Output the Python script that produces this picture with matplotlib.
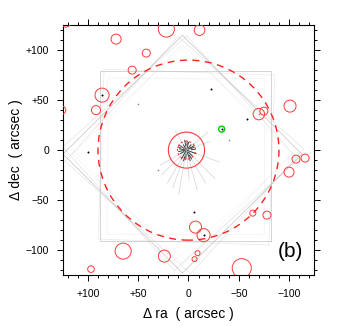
import numpy as np
import matplotlib
matplotlib.use("Agg")
import matplotlib.pyplot as plt
from matplotlib.patches import Circle
from matplotlib.ticker import MultipleLocator, FuncFormatter

plt.rcParams['font.family'] = ['Liberation Sans', 'DejaVu Sans']

# red source circles: ra, dec, radius (arcsec)
src_ra = [22, 72, 42, 56, 86, 92, 126, 122, -11, -101, -70, -75, -107, -116,
          -100, -64, -78, -7, -15, -9, -6, 24, 65, 97, -53]
src_dec = [121, 111, 97, 80, 55, 40, 40, 128, 120, 44, 36, 39, -9, -8,
           -22, -63, -65, -77, -85, -103, -109, -106, -101, -119, -118]
src_r = [8, 5, 4, 4, 7, 4.5, 4, 5, 5.3, 6, 5.7, 4, 4, 4,
         5, 3, 4, 6, 6.5, 2.5, 2.5, 6, 8, 3.3, 9.5]

# black point sources
dot_ra = [100, -22, -58, -5, -15, -33, 86]
dot_dec = [-2, 61, 31, -62, -85, 21, 55]
faint_ra = [50, -70, 30, -40]
faint_dec = [46, 36, -20, 10]

# footprints: centre ra, centre dec, half size, position angle (deg)
fp_ra = [3, 6, 4, 8, 2]
fp_dec = [-6, -4, -5, -3, -7]
fp_half = [85, 84, 84, 83, 85]
fp_pa = [0, 45, 42, 48, 2]
fp_alpha = [0.8, 0.8, 0.35, 0.35, 0.3]

# dark stripes of the central source: angle (deg), inner and outer radius (arcsec)
spk_ang = [10, 35, 60, 80, 105, 130, 150, 175, 200, 225, 250, 275, 300, 330, 350,
           20, 95, 160, 240, 285]
spk_r0 = [1, 3, 2, 4, 1, 3, 2, 5, 1, 3, 2, 4, 1, 3, 2, 6, 5, 4, 6, 7]
spk_r1 = [7, 9, 6, 10, 8, 7, 9, 8, 10, 8, 11, 9, 10, 7, 8, 9, 9, 8, 10, 11]
ray_ang = [200, 225, 240, 255, 265, 280, 290, 300, 315, 330, 140, 160, 60]
ray_len = [35, 40, 38, 42, 30, 45, 40, 38, 35, 30, 28, 25, 22]

cen_ra, cen_dec = 2, 0
fov_r = 90
halo_r = 18
core_r = 9
green_ra, green_dec, green_r = -33, 21, 3

fig = plt.figure(figsize=(3.51, 3.26), dpi=100)
ax = fig.add_axes([0.179, 0.156, 0.716, 0.767])
ax.set_xlim(125, -125)
ax.set_ylim(-125, 125)

sq = np.array([[-1, -1], [1, -1], [1, 1], [-1, 1], [-1, -1]], float)
for ra0, de0, h, pa, al in zip(fp_ra, fp_dec, fp_half, fp_pa, fp_alpha):
    t = np.radians(pa)
    rot = np.array([[np.cos(t), -np.sin(t)], [np.sin(t), np.cos(t)]])
    pts = (sq * h) @ rot.T
    ax.plot(pts[:, 0] + ra0, pts[:, 1] + de0, color='#bcbcbc', lw=0.55, alpha=al, zorder=1)
    # inner chip outline
    pts2 = (sq * h * 0.92) @ rot.T
    ax.plot(pts2[:, 0] + ra0, pts2[:, 1] + de0, color='#dcdcdc', lw=0.4, alpha=al * 0.5, zorder=1)

for a, l in zip(ray_ang, ray_len):
    t = np.radians(a)
    ax.plot([cen_ra, cen_ra + l * np.cos(t)], [cen_dec, cen_dec + l * np.sin(t)],
            color='#d4d4d4', lw=0.5, zorder=2)
for a, r0, r1 in zip(spk_ang, spk_r0, spk_r1):
    t = np.radians(a)
    ax.plot([cen_ra + r0 * np.cos(t), cen_ra + r1 * np.cos(t)],
            [cen_dec + r0 * np.sin(t), cen_dec + r1 * np.sin(t)],
            color='#404040', lw=0.7, zorder=3)

for x, y, r in zip(src_ra, src_dec, src_r):
    ax.add_patch(Circle((x, y), r, fill=False, ec='#ff3a3a', lw=0.7, zorder=4))

ax.add_patch(Circle((0, 0), fov_r, fill=False, ec='#ff2020', lw=1.0,
                    ls=(0, (5, 4)), zorder=4))
ax.add_patch(Circle((cen_ra, cen_dec), halo_r, fill=False, ec='#ff3a3a', lw=0.8, zorder=4))
ax.add_patch(Circle((cen_ra, cen_dec), core_r, fill=False, ec='#ff3a3a', lw=0.8,
                    ls=(0, (2, 2)), zorder=4))
ax.add_patch(Circle((green_ra, green_dec), green_r, fill=False, ec='#00cc00', lw=1.0, zorder=5))

ax.scatter(dot_ra, dot_dec, s=2, c='black', lw=0, zorder=6)
ax.scatter(faint_ra, faint_dec, s=1.5, c='#909090', lw=0, zorder=6)

ax.text(0.905, 0.095, '(b)', transform=ax.transAxes, fontsize=15,
        ha='center', va='center')

fmt = FuncFormatter(lambda v, p: f'+{v:.0f}' if v > 0 else ('0' if v == 0 else f'\u2212{-v:.0f}'))
ax.xaxis.set_major_locator(MultipleLocator(50))
ax.xaxis.set_minor_locator(MultipleLocator(10))
ax.yaxis.set_major_locator(MultipleLocator(50))
ax.yaxis.set_minor_locator(MultipleLocator(10))
ax.xaxis.set_major_formatter(fmt)
ax.yaxis.set_major_formatter(fmt)
ax.tick_params(which='both', direction='out', top=True, right=True, labelsize=7.5, width=0.7)
ax.tick_params(which='major', length=4, pad=6)
ax.tick_params(which='minor', length=2.2)
for s in ax.spines.values():
    s.set_linewidth(0.8)

ax.set_xlabel('\u0394 ra  ( arcsec )', fontsize=10, labelpad=6)
ax.set_ylabel('\u0394 dec  ( arcsec )', fontsize=10, labelpad=2)

fig.savefig('out.png', dpi=100)
